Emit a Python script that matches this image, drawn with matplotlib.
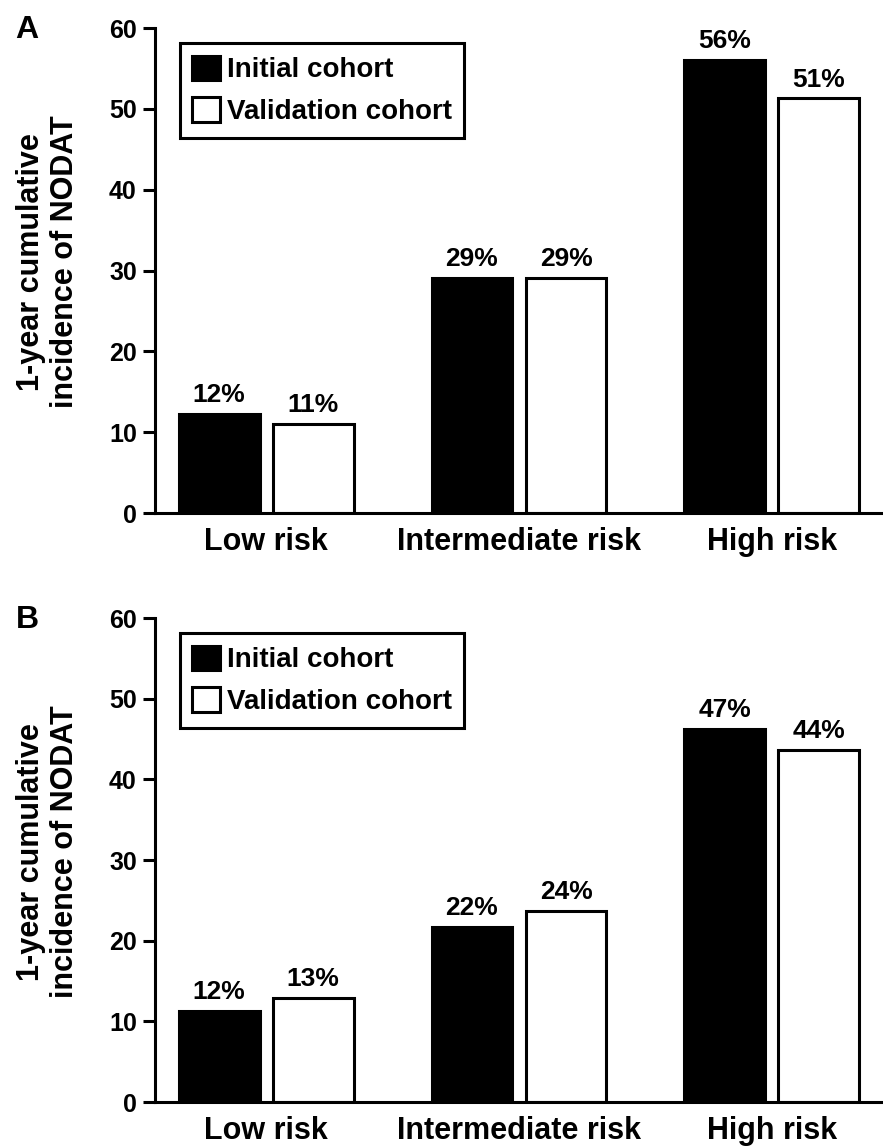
import numpy as np
import matplotlib
matplotlib.use("Agg")
import matplotlib.pyplot as plt
from matplotlib.patches import Patch

# data
groups = ["Low risk", "Intermediate risk", "High risk"]
series = ["Initial cohort", "Validation cohort"]
panel_a_initial = [12.3, 29.1, 56.1]
panel_a_valid = [11.05, 29.1, 51.3]
panel_a_labels_init = ["12%", "29%", "56%"]
panel_a_labels_valid = ["11%", "29%", "51%"]
panel_b_initial = [11.25, 21.7, 46.3]
panel_b_valid = [12.9, 23.7, 43.6]
panel_b_labels_init = ["12%", "22%", "47%"]
panel_b_labels_valid = ["13%", "24%", "44%"]
yticks = [0, 10, 20, 30, 40, 50, 60]

plt.rcParams["font.family"] = ["Liberation Sans", "DejaVu Sans"]
plt.rcParams["font.weight"] = "bold"

W, H = 883, 1147
fig = plt.figure(figsize=(W / 100, H / 100), dpi=100)

x = np.arange(len(groups))
bw = 0.32
off = 0.186
lw = 2.2


def panel(ax, init, valid, lab_i, lab_v):
    b1 = ax.bar(x - off, init, bw, color="black", edgecolor="black", linewidth=lw)
    b2 = ax.bar(x + off, valid, bw, color="white", edgecolor="black", linewidth=lw)
    for bars, labs in ((b1, lab_i), (b2, lab_v)):
        for r, t in zip(bars, labs):
            ax.annotate(t, (r.get_x() + r.get_width() / 2, r.get_height()),
                        xytext=(0, 8.5), textcoords="offset points",
                        ha="center", va="baseline", fontsize=19, fontweight="bold")
    ax.set_xlim(-0.44, 2.44)
    ax.set_ylim(0, 60)
    ax.set_yticks(yticks)
    ax.set_xticks(x)
    ax.set_xticklabels(groups, fontsize=22, fontweight="bold")
    ax.tick_params(axis="x", length=0, pad=10)
    ax.tick_params(axis="y", length=8.6, width=lw, labelsize=18, pad=4.5)
    for s in ("top", "right"):
        ax.spines[s].set_visible(False)
    for s in ("left", "bottom"):
        ax.spines[s].set_linewidth(lw)
    handles = [Patch(facecolor="black", edgecolor="black", linewidth=lw),
               Patch(facecolor="white", edgecolor="black", linewidth=lw)]
    leg = ax.legend(handles, series, loc="upper left", bbox_to_anchor=(0.034, 0.969),
                    fontsize=20, frameon=True, fancybox=False, edgecolor="black",
                    framealpha=1, handlelength=1.0, handleheight=1.0,
                    handletextpad=0.25, borderpad=0.45, labelspacing=0.5,
                    borderaxespad=0)
    leg.get_frame().set_linewidth(lw)
    for t in leg.get_texts():
        t.set_fontweight("bold")


left = 155 / W
width = 1 - left
# (top, bottom) of each plot area in pixels
ax_a = fig.add_axes([left, 1 - 513 / H, width, (513 - 28) / H])
ax_b = fig.add_axes([left, 1 - 1102 / H, width, (1102 - 618) / H])

panel(ax_a, panel_a_initial, panel_a_valid, panel_a_labels_init, panel_a_labels_valid)
panel(ax_b, panel_b_initial, panel_b_valid, panel_b_labels_init, panel_b_labels_valid)

ylab = "1-year cumulative\nincidence of NODAT"
fig.text(48 / W, 1 - 262 / H, ylab, rotation=90, ha="center", va="center",
         fontsize=22, fontweight="bold", linespacing=1.18)
fig.text(48 / W, 1 - 852 / H, ylab, rotation=90, ha="center", va="center",
         fontsize=22, fontweight="bold", linespacing=1.18)
fig.text(27 / W, 1 - 30 / H, "A", ha="center", va="center", fontsize=23, fontweight="bold")
fig.text(27 / W, 1 - 620 / H, "B", ha="center", va="center", fontsize=23, fontweight="bold")

fig.savefig("out.png", dpi=100)
